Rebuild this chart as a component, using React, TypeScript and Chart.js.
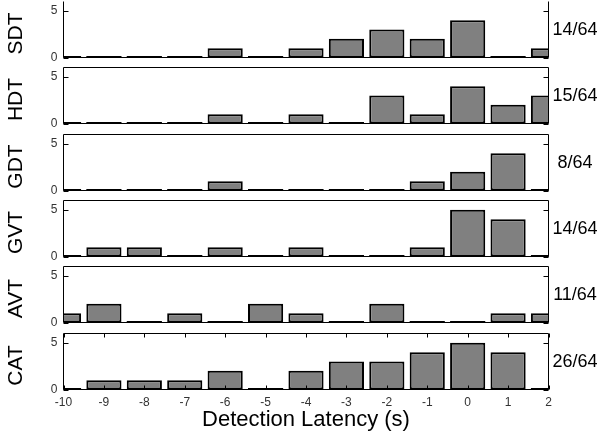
import React, { useEffect, useRef } from "react";
import { Chart, registerables } from "chart.js";

Chart.register(...registerables);

// ---- data ----
const bins = [-10, -9, -8, -7, -6, -5, -4, -3, -2, -1, 0, 1, 2];
const xTicks = [-10, -9, -8, -7, -6, -5, -4, -3, -2, -1, 0, 1, 2];
const yTicks = [0, 5];
const sdt = [0, 0, 0, 0, 1, 0, 1, 2, 3, 2, 4, 0, 1];
const hdt = [0, 0, 0, 0, 1, 0, 1, 0, 3, 1, 4, 2, 3];
const gdt = [0, 0, 0, 0, 1, 0, 0, 0, 0, 1, 2, 4, 0];
const gvt = [0, 1, 1, 0, 1, 0, 1, 0, 0, 1, 5, 4, 0];
const avt = [1, 2, 0, 1, 0, 2, 1, 0, 2, 0, 0, 1, 1];
const cat = [0, 1, 1, 1, 2, 0, 2, 3, 3, 4, 5, 4, 0];
const panelNames = ["SDT", "HDT", "GDT", "GVT", "AVT", "CAT"];
const panelRatios = ["14/64", "15/64", "8/64", "14/64", "11/64", "26/64"];
const panelCounts = [sdt, hdt, gdt, gvt, avt, cat];
const xTitle = "Detection Latency (s)";
const xMin = -10;
const xMax = 2;
const yMin = 0;
const yMax = 6;

// ---- layout ----
const W = 600;
const H = 439;
const PLOT_L = 63.5;
const PLOT_R = 548.5;
const PANEL_TOPS = [1.5, 67.5, 134.5, 200.5, 266.5, 333.5];
const PANEL_H = 56;
const X_H = 44;
const FONT = '"Liberation Sans", Arial, Helvetica, sans-serif';

const boxPlugin = {
  id: "box",
  afterDatasetsDraw(chart: any, _args: any, opts: any) {
    const { ctx } = chart;
    const { left, right, top, bottom } = chart.chartArea;
    const ys = chart.scales.y;
    const xs = chart.scales.x;
    ctx.save();
    ctx.strokeStyle = "#000";
    ctx.lineWidth = 1;
    ctx.beginPath();
    ctx.moveTo(left, top);
    ctx.lineTo(left, bottom);
    ctx.lineTo(right, bottom);
    ctx.lineTo(right, top);
    if (!opts.first) ctx.lineTo(left, top);
    ctx.stroke();

    // inward y ticks
    ctx.beginPath();
    ys.ticks.forEach((t: any) => {
      const y = Math.round(ys.getPixelForValue(t.value)) + 0.5;
      ctx.moveTo(left, y);
      ctx.lineTo(left + 5, y);
      ctx.moveTo(right, y);
      ctx.lineTo(right - 5, y);
    });
    if (opts.last) {
      xs.ticks.forEach((t: any) => {
        const x = Math.round(xs.getPixelForValue(t.value)) + 0.5;
        ctx.moveTo(x, bottom);
        ctx.lineTo(x, bottom - 4);
        ctx.moveTo(x, top);
        ctx.lineTo(x, top + 4);
      });
    }
    ctx.stroke();

    // zero-height bars drawn as a thick baseline segment
    const meta = chart.getDatasetMeta(0);
    ctx.beginPath();
    ctx.rect(left, top - 2, right - left, bottom - top + 4);
    ctx.clip();
    ctx.lineWidth = 2;
    ctx.beginPath();
    meta.data.forEach((el: any, i: number) => {
      const v = chart.data.datasets[0].data[i].y;
      if (v === 0) {
        const p = el.getProps(["x", "width"], true);
        ctx.moveTo(p.x - p.width / 2, bottom - 0.5);
        ctx.lineTo(p.x + p.width / 2, bottom - 0.5);
      }
    });
    ctx.stroke();
    ctx.restore();

    // right-hand ratio label
    ctx.save();
    ctx.fillStyle = "#000";
    ctx.font = `18px ${FONT}`;
    ctx.textAlign = "center";
    ctx.textBaseline = "middle";
    ctx.fillText(opts.ratio, 575, (top + bottom) / 2 + 1);
    ctx.restore();

    // left-hand rotated panel name
    ctx.save();
    ctx.fillStyle = "#000";
    ctx.font = `21px ${FONT}`;
    ctx.textAlign = "center";
    ctx.textBaseline = "middle";
    ctx.translate(16, (top + bottom) / 2 + 4);
    ctx.rotate(-Math.PI / 2);
    ctx.fillText(opts.name, 0, 0);
    ctx.restore();
  },
};

function Panel({ idx }: { idx: number }) {
  const ref = useRef<HTMLCanvasElement>(null);
  useEffect(() => {
    const counts = panelCounts[idx];
    const top = PANEL_TOPS[idx];
    const bottom = top + PANEL_H;
    const last = idx === panelNames.length - 1;
    const chart = new Chart(ref.current as HTMLCanvasElement, {
      type: "bar",
      data: {
        datasets: [
          {
            data: bins.map((b, i) => ({ x: b, y: counts[i] })),
            backgroundColor: "#808080",
            borderColor: "#000",
            borderWidth: 2,
            borderSkipped: false,
            barPercentage: 0.87,
            categoryPercentage: 1,
          } as any,
        ],
      },
      options: {
        responsive: false,
        animation: false,
        events: [],
        layout: {
          padding: {
            left: 0,
            right: W - PLOT_R,
            top,
            bottom: last ? H - bottom - X_H : H - bottom,
          },
        },
        plugins: {
          legend: { display: false },
          tooltip: { enabled: false },
          box: { first: idx === 0, last, ratio: panelRatios[idx], name: panelNames[idx] },
        } as any,
        scales: {
          x: {
            type: "linear",
            min: xMin,
            max: xMax,
            offset: false,
            display: last,
            grid: { display: false, drawTicks: false },
            border: { display: false },
            afterBuildTicks: (s: any) => {
              s.ticks = xTicks.map((v) => ({ value: v }));
            },
            afterFit: (s: any) => {
              if (last) s.height = X_H;
              s.paddingLeft = 0;
              s.paddingRight = 0;
            },
            ticks: {
              padding: 6,
              font: { family: FONT, size: 12 },
              color: "#333",
              maxRotation: 0,
              autoSkip: false,
              callback: (v: any) => String(v),
            },
            title: {
              display: true,
              text: xTitle,
              font: { family: FONT, size: 22 },
              color: "#000",
              padding: 0,
            },
          },
          y: {
            min: yMin,
            max: yMax,
            grid: { display: false, drawTicks: false },
            border: { display: false },
            afterBuildTicks: (s: any) => {
              s.ticks = yTicks.map((v) => ({ value: v }));
            },
            afterFit: (s: any) => {
              s.width = PLOT_L;
              s.paddingTop = 0;
              s.paddingBottom = 0;
            },
            ticks: {
              padding: 6,
              font: { family: FONT, size: 12 },
              color: "#333",
            },
          },
        },
      } as any,
      plugins: [boxPlugin],
    });
    return () => chart.destroy();
  }, [idx]);
  return (
    <canvas
      ref={ref}
      width={W}
      height={H}
      style={{ position: "absolute", left: 0, top: 0, width: W, height: H }}
    />
  );
}

export default function App() {
  return (
    <div
      style={{
        position: "absolute",
        left: 0,
        top: 0,
        width: W,
        height: H,
        background: "#fff",
        overflow: "hidden",
      }}
    >
      {panelNames.map((_, i) => (
        <Panel key={i} idx={i} />
      ))}
    </div>
  );
}
